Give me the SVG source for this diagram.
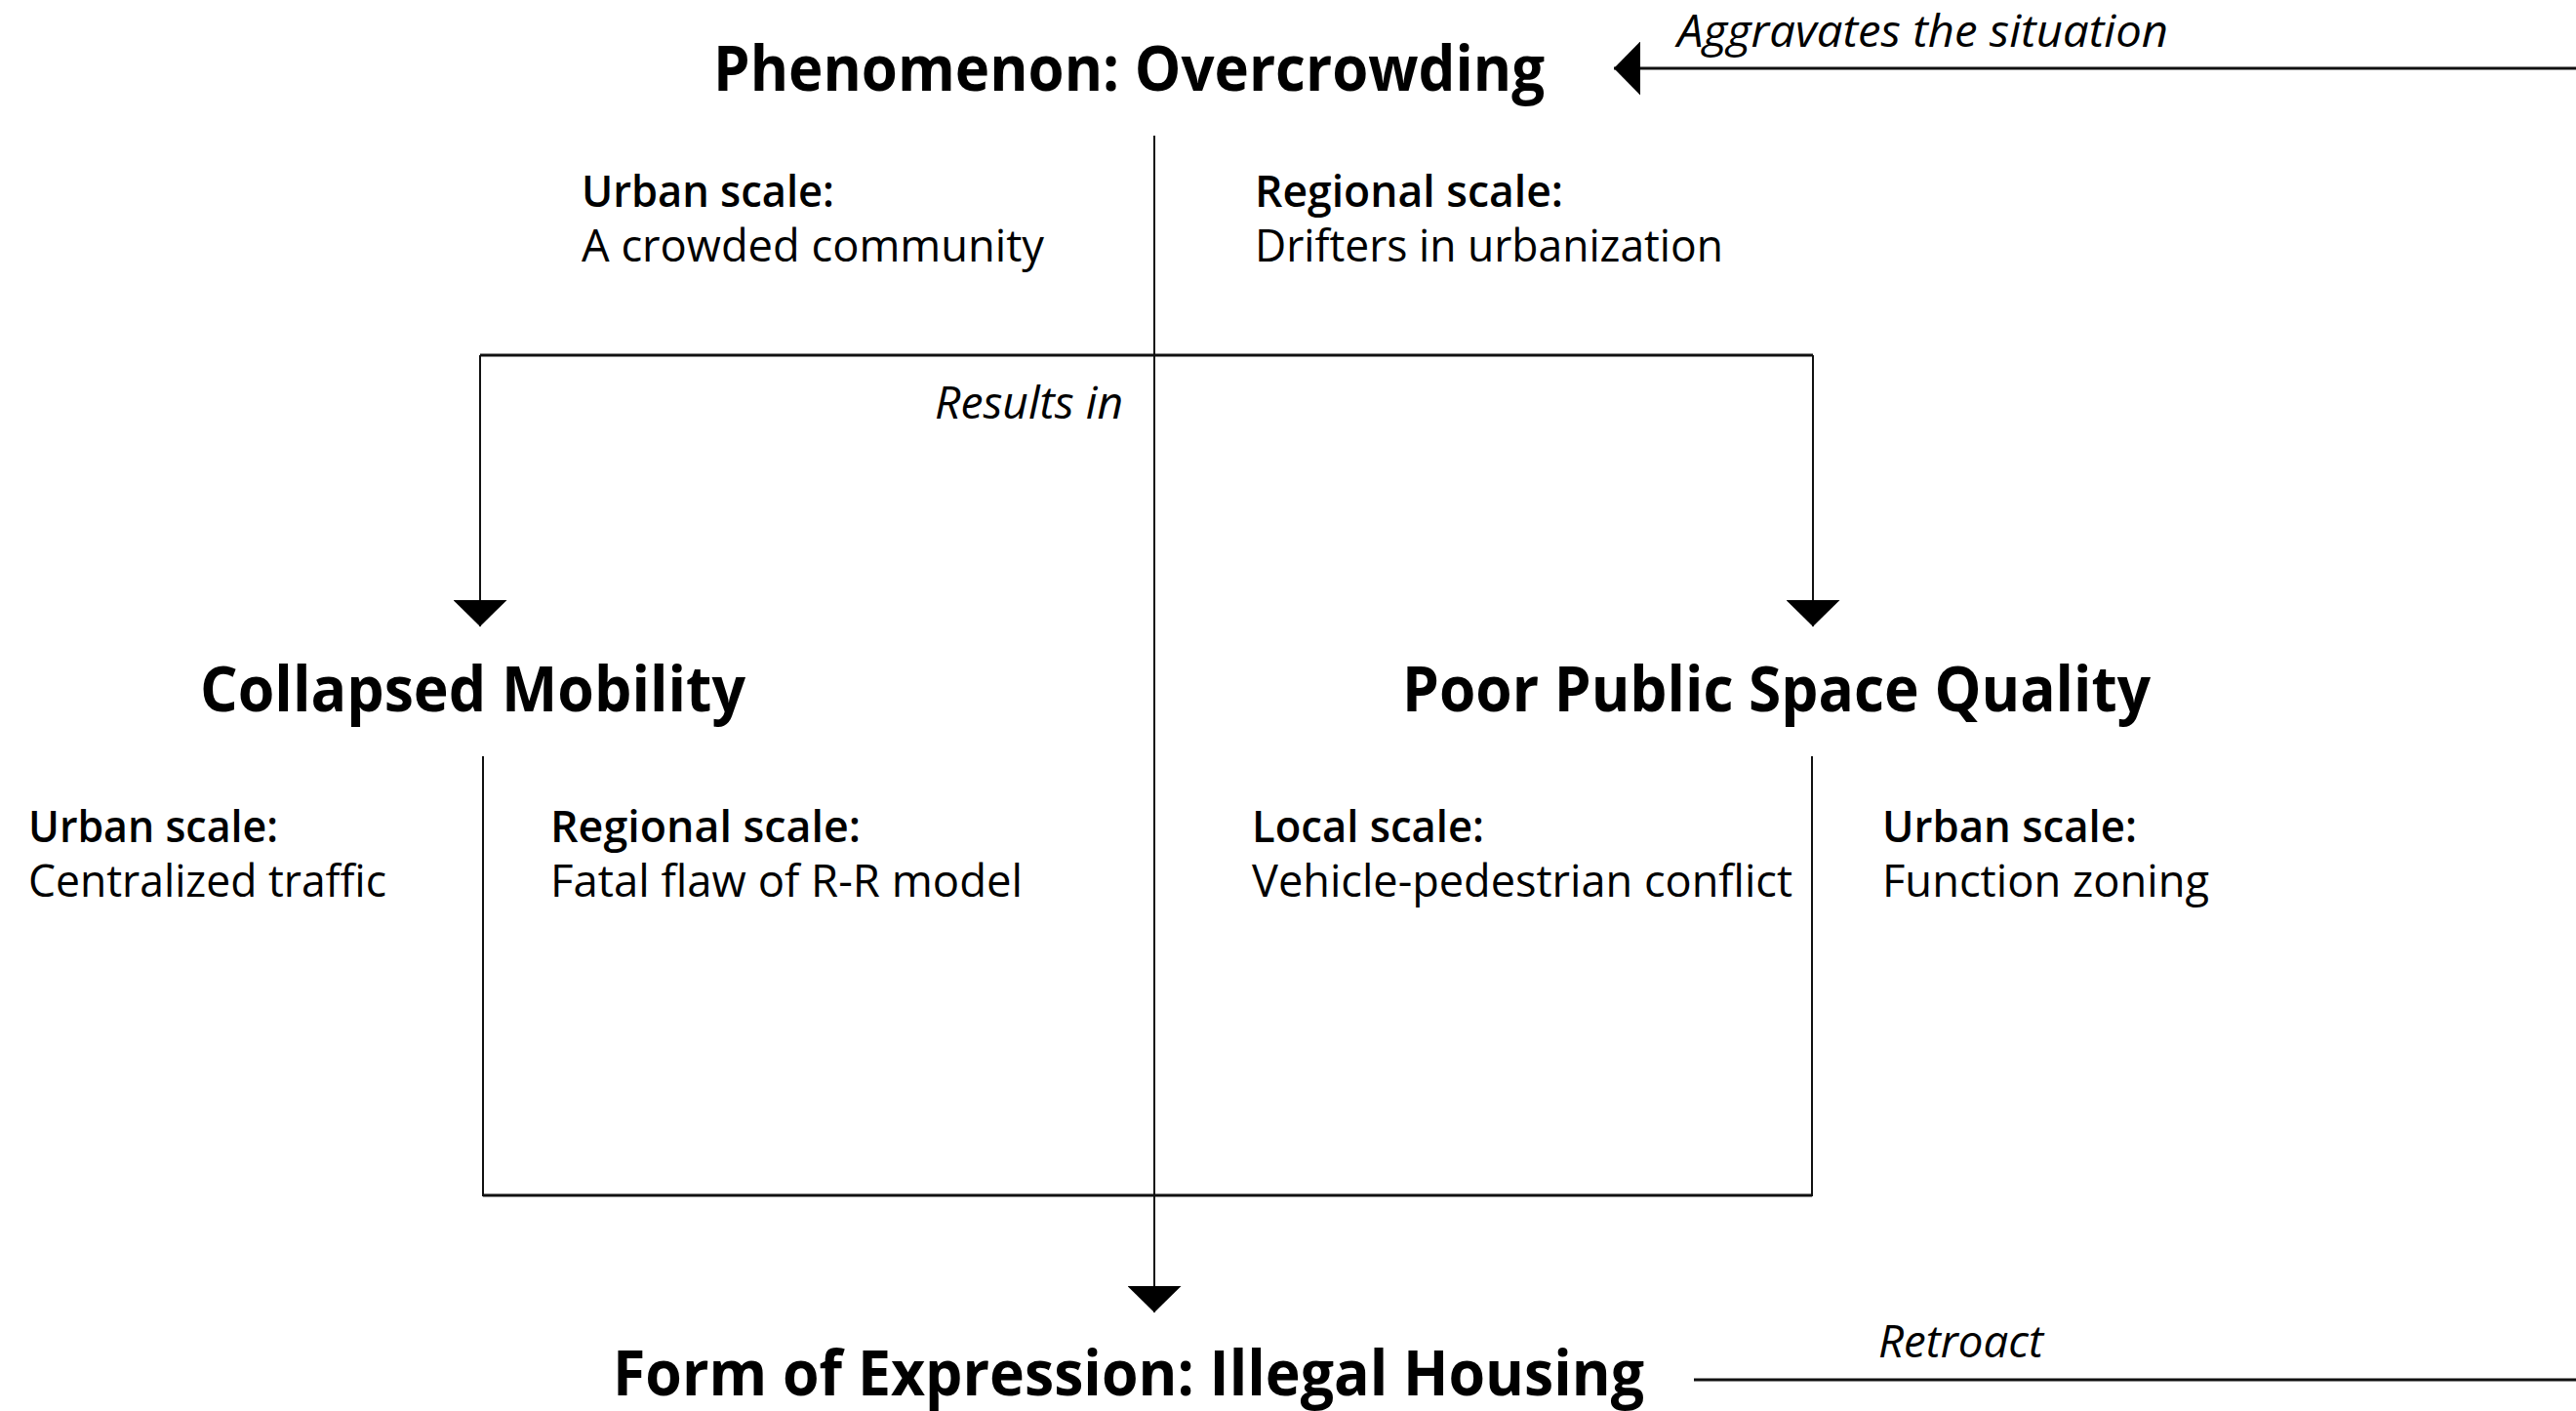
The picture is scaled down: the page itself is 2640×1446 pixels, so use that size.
<svg xmlns="http://www.w3.org/2000/svg" width="2640" height="1446" viewBox="0 0 2640 1446">
<style>
text{font-family:"Open Sans","Noto Sans","DejaVu Sans",sans-serif;fill:#000}
.title{font-size:65px;font-weight:700}
.head{font-size:46px;font-weight:600}
.body{font-size:46px;font-weight:400}
.lbl{font-size:45px;font-style:italic;font-weight:400}
.ln{stroke:#111;stroke-width:2;fill:none}
.lnh{stroke:#111;stroke-width:3;fill:none}
</style>
<defs>
<marker id="arr" viewBox="0 0 27 55" refX="27" refY="27.5" markerWidth="27" markerHeight="55" markerUnits="userSpaceOnUse" orient="auto">
<path d="M0,0 L27,27.5 L0,55 Z" fill="#000"/>
</marker>
</defs>
<rect width="2640" height="1446" fill="#fff"/>
<g id="connectors">
<line class="lnh" x1="2640" y1="70" x2="1654" y2="70" marker-end="url(#arr)"/>
<line class="ln" x1="1183" y1="139" x2="1183" y2="1345" marker-end="url(#arr)"/>
<polyline class="lnh" points="492,364 1858,364"/>
<line class="ln" x1="492" y1="364" x2="492" y2="642" marker-end="url(#arr)"/>
<line class="ln" x1="1858" y1="364" x2="1858" y2="642" marker-end="url(#arr)"/>
<polyline class="ln" points="495,775 495,1225 1857,1225 1857,775"/>
<line class="lnh" x1="495" y1="1225" x2="1857" y2="1225"/>
<line class="lnh" x1="1736" y1="1414" x2="2640" y2="1414"/>
<text class="lbl" x="1719" y="48" textLength="503" lengthAdjust="spacingAndGlyphs">Aggravates the situation</text>
<text class="lbl" x="958" y="429" textLength="193" lengthAdjust="spacingAndGlyphs">Results in</text>
<text class="lbl" x="1925" y="1391" textLength="169" lengthAdjust="spacingAndGlyphs">Retroact</text>
</g>
<g id="phenomenon">
<text class="title" x="731" y="93" textLength="852" lengthAdjust="spacingAndGlyphs">Phenomenon: Overcrowding</text>
<text class="head" x="596" y="212" textLength="259" lengthAdjust="spacingAndGlyphs">Urban scale:</text>
<text class="body" x="596" y="268" textLength="474" lengthAdjust="spacingAndGlyphs">A crowded community</text>
<text class="head" x="1286" y="212" textLength="316" lengthAdjust="spacingAndGlyphs">Regional scale:</text>
<text class="body" x="1286" y="268" textLength="480" lengthAdjust="spacingAndGlyphs">Drifters in urbanization</text>
</g>
<g id="collapsed-mobility">
<text class="title" x="205" y="729" textLength="559" lengthAdjust="spacingAndGlyphs">Collapsed Mobility</text>
<text class="head" x="29" y="863" textLength="256" lengthAdjust="spacingAndGlyphs">Urban scale:</text>
<text class="body" x="29" y="919" textLength="367" lengthAdjust="spacingAndGlyphs">Centralized traffic</text>
<text class="head" x="564" y="863" textLength="318" lengthAdjust="spacingAndGlyphs">Regional scale:</text>
<text class="body" x="564" y="919" textLength="484" lengthAdjust="spacingAndGlyphs">Fatal flaw of R-R model</text>
</g>
<g id="poor-public-space">
<text class="title" x="1437" y="729" textLength="767" lengthAdjust="spacingAndGlyphs">Poor Public Space Quality</text>
<text class="head" x="1283" y="863" textLength="238" lengthAdjust="spacingAndGlyphs">Local scale:</text>
<text class="body" x="1283" y="919" textLength="554" lengthAdjust="spacingAndGlyphs">Vehicle-pedestrian conflict</text>
<text class="head" x="1929" y="863" textLength="261" lengthAdjust="spacingAndGlyphs">Urban scale:</text>
<text class="body" x="1929" y="919" textLength="335" lengthAdjust="spacingAndGlyphs">Function zoning</text>
</g>
<g id="illegal-housing">
<text class="title" x="628" y="1430" textLength="1057" lengthAdjust="spacingAndGlyphs">Form of Expression: Illegal Housing</text>
</g>
</svg>
